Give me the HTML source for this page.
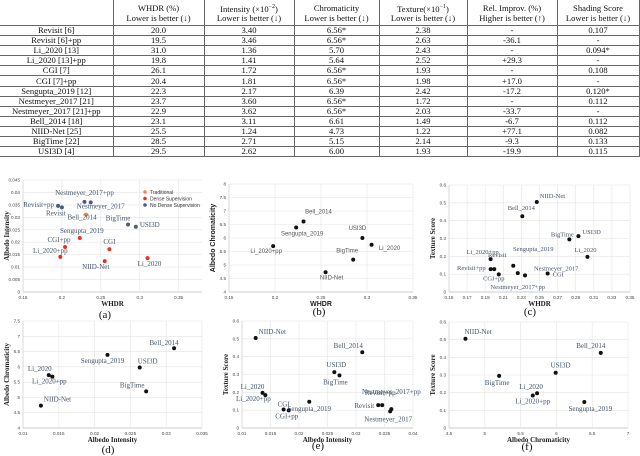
<!DOCTYPE html>
<html><head><meta charset="utf-8">
<style>
body{margin:0;width:640px;height:456px;background:#fff;position:relative;overflow:hidden;font-family:"Liberation Serif",serif}
table{position:absolute;left:0;top:0;border-collapse:collapse;font-size:8.6px;color:#111;table-layout:fixed}
td{border:0.6px solid #666;text-align:center;padding:0;height:9.1px;line-height:9px;white-space:nowrap}
tr.h td{height:25px;line-height:10px;border-top:none}
td.f{border-left:none}
svg{position:absolute;left:0;top:0}
</style></head><body>
<table>
<colgroup><col style="width:113px"><col style="width:91px"><col style="width:90px"><col style="width:85px"><col style="width:88px"><col style="width:90px"><col style="width:82px"></colgroup>
<tr class="h"><td class="f"></td><td>WHDR (%)<br>Lower is better (↓)</td><td>Intensity (×10<sup style="font-size:6px">−2</sup>)<br>Lower is better (↓)</td><td>Chromaticity<br>Lower is better (↓)</td><td>Texture(×10<sup style="font-size:6px">−1</sup>)<br>Lower is better (↓)</td><td>Rel. Improv. (%)<br>Higher is better (↑)</td><td>Shading Score<br>Lower is better (↓)</td></tr>
<tr><td class="f">Revisit [6]</td><td>20.0</td><td>3.40</td><td>6.56*</td><td>2.38</td><td>-</td><td>0.107</td></tr>
<tr><td class="f">Revisit [6]+pp</td><td>19.5</td><td>3.46</td><td>6.56*</td><td>2.63</td><td>-36.1</td><td>-</td></tr>
<tr><td class="f">Li_2020 [13]</td><td>31.0</td><td>1.36</td><td>5.70</td><td>2.43</td><td>-</td><td>0.094*</td></tr>
<tr><td class="f">Li_2020 [13]+pp</td><td>19.8</td><td>1.41</td><td>5.64</td><td>2.52</td><td>+29.3</td><td>-</td></tr>
<tr><td class="f">CGI [7]</td><td>26.1</td><td>1.72</td><td>6.56*</td><td>1.93</td><td>-</td><td>0.108</td></tr>
<tr><td class="f">CGI [7]+pp</td><td>20.4</td><td>1.81</td><td>6.56*</td><td>1.98</td><td>+17.0</td><td>-</td></tr>
<tr><td class="f">Sengupta_2019 [12]</td><td>22.3</td><td>2.17</td><td>6.39</td><td>2.42</td><td>-17.2</td><td>0.120*</td></tr>
<tr><td class="f">Nestmeyer_2017 [21]</td><td>23.7</td><td>3.60</td><td>6.56*</td><td>1.72</td><td>-</td><td>0.112</td></tr>
<tr><td class="f">Nestmeyer_2017 [21]+pp</td><td>22.9</td><td>3.62</td><td>6.56*</td><td>2.03</td><td>-33.7</td><td>-</td></tr>
<tr><td class="f">Bell_2014 [18]</td><td>23.1</td><td>3.11</td><td>6.61</td><td>1.49</td><td>-6.7</td><td>0.112</td></tr>
<tr><td class="f">NIID-Net [25]</td><td>25.5</td><td>1.24</td><td>4.73</td><td>1.22</td><td>+77.1</td><td>0.082</td></tr>
<tr><td class="f">BigTime [22]</td><td>28.5</td><td>2.71</td><td>5.15</td><td>2.14</td><td>-9.3</td><td>0.133</td></tr>
<tr><td class="f">USI3D [4]</td><td>29.5</td><td>2.62</td><td>6.00</td><td>1.93</td><td>-19.9</td><td>0.115</td></tr>
</table>
<svg id="s" width="640" height="456"></svg>
<script>
// Chart (a): WHDR vs Albedo Intensity
const aNames=["Revisit+pp","Revisit","Nestmeyer_2017+pp","Nestmeyer_2017","Bell_2014","BigTime","USI3D","Sengupta_2019","CGI+pp","CGI","Li_2020+pp","NIID-Net","Li_2020"];
const aX=[0.195,0.200,0.229,0.237,0.231,0.285,0.295,0.223,0.204,0.261,0.198,0.255,0.310];
const aY=[0.0346,0.0340,0.0362,0.0360,0.0311,0.0271,0.0262,0.0217,0.0181,0.0172,0.0141,0.0124,0.0136];
const aGroup=["none","none","none","none","trad","none","none","dense","dense","dense","dense","dense","dense"];
const aXTicks=[0.15,0.2,0.25,0.3,0.35];
const aYTicks=[0,0.005,0.01,0.015,0.02,0.025,0.03,0.035,0.04,0.045];
// Chart (b): WHDR vs Albedo Chromaticity
const bNames=["Bell_2014","Sengupta_2019","Li_2020+pp","USI3D","Li_2020","BigTime","NIID-Net"];
const bX=[0.231,0.223,0.198,0.295,0.305,0.285,0.255];
const bY=[6.61,6.39,5.70,6.00,5.75,5.20,4.73];
const bXTicks=[0.15,0.2,0.25,0.3,0.35];
const bYTicks=[4,4.5,5,5.5,6,6.5,7,7.5,8];
// Chart (c): WHDR vs Texture Score
const cNames=["NIID-Net","Bell_2014","BigTime","USI3D","Li_2020","Li_2020+pp","Revisit+pp","Revisit","Sengupta_2019","CGI+pp","Nestmeyer_2017+pp","Nestmeyer_2017","CGI"];
const cX=[0.247,0.231,0.283,0.293,0.303,0.196,0.196,0.200,0.221,0.205,0.226,0.234,0.259];
const cY=[0.505,0.425,0.295,0.313,0.197,0.184,0.128,0.128,0.147,0.099,0.106,0.093,0.104];
const cXTicks=[0.15,0.17,0.19,0.21,0.23,0.25,0.27,0.29,0.31,0.33,0.35];
const cYTicks=[0,0.1,0.2,0.3,0.4,0.5,0.6];
// Chart (d): Albedo Intensity vs Albedo Chromaticity
const dNames=["Bell_2014","Sengupta_2019","USI3D","BigTime","Li_2020","Li_2020+pp","NIID-Net"];
const dX=[0.0311,0.0218,0.0263,0.0272,0.0136,0.0141,0.0125];
const dY=[6.61,6.39,5.98,5.20,5.73,5.68,4.73];
const dXTicks=[0.01,0.015,0.02,0.025,0.03,0.035];
const dYTicks=[4,4.5,5,5.5,6,6.5,7,7.5];
// Chart (e): Albedo Intensity vs Texture Score
const eNames=["NIID-Net","Bell_2014","USI3D","BigTime","Li_2020","Li_2020+pp","CGI","CGI+pp","Sengupta_2019","Revisit","Revisit+pp","Nestmeyer_2017+pp","Nestmeyer_2017"];
const eX=[0.0124,0.0311,0.0262,0.0271,0.0136,0.0141,0.0173,0.0182,0.0218,0.0339,0.0346,0.0362,0.0360];
const eY=[0.505,0.425,0.313,0.295,0.197,0.184,0.104,0.099,0.147,0.128,0.128,0.106,0.093];
const eXTicks=[0.01,0.015,0.02,0.025,0.03,0.035,0.04];
const eYTicks=[0,0.1,0.2,0.3,0.4,0.5,0.6];
// Chart (f): Albedo Chromaticity vs Texture Score
const fNames=["NIID-Net","BigTime","USI3D","Bell_2014","Li_2020","Li_2020+pp","Sengupta_2019"];
const fX=[4.73,5.20,5.99,6.62,5.73,5.67,6.39];
const fY=[0.505,0.295,0.313,0.425,0.197,0.184,0.147];
const fXTicks=[4.5,5,5.5,6,6.5,7];
const fYTicks=[0,0.1,0.2,0.3,0.4,0.5,0.6];

const NS="http://www.w3.org/2000/svg";
const svg=document.getElementById('s');
function mk(tag,attrs,parent,text){const e=document.createElementNS(NS,tag);for(const k in attrs)e.setAttribute(k,attrs[k]);if(text!==undefined)e.textContent=text;(parent||svg).appendChild(e);return e;}
const labA=[[-4,1,"end"],[-6,8,"middle"],[0,-7,"middle"],[10,6,"middle"],[-4,5,"middle"],[-10,-4,"middle"],[4,0,"start"],[2,-5,"middle"],[-6,-5,"middle"],[0,-5,"middle"],[-10,-4,"middle"],[-9,8,"middle"],[2,8,"middle"]];
const labB=[[15,-8,"middle"],[6,8,"middle"],[-7,7,"middle"],[-5,-8,"middle"],[18,5,"middle"],[-6,-7,"middle"],[6,7,"middle"]];
const labC=[[3,-4,"start"],[-1,-6,"middle"],[-7,-3,"middle"],[4,-2,"start"],[-2,-5,"middle"],[-8,-5,"middle"],[-5,1,"end"],[3,-12,"middle"],[20,-15,"middle"],[-5,6,"middle"],[0,16,"middle"],[9,-5,"start"],[5,3,"start"]];
const labD=[[-10,-3,"middle"],[-5,8,"middle"],[8,-4,"middle"],[-14,-4,"middle"],[-9,-4,"middle"],[-3,7,"middle"],[3,-4,"start"]];
const labE=[[3,-4,"start"],[-14,-4,"middle"],[2,-5,"middle"],[-4,9,"middle"],[-10,-4,"middle"],[-12,6,"middle"],[0,-3,"middle"],[-2,8,"middle"],[0,9,"middle"],[-4,3,"end"],[-2,-10,"middle"],[0,-15,"middle"],[-2,10,"middle"]];
const labF=[[-1,-5,"start"],[-2,9,"middle"],[-5,-5,"start"],[-10,-5,"middle"],[-6,-4,"middle"],[0,8,"middle"],[6,9,"middle"]];

function chart(id,c,names,xs,ys,xt,yt,lab,colors){
  const g=mk('g',{},svg);
  
  
  const sx=v=>c.px0+(v-c.x0)/(c.x1-c.x0)*(c.px1-c.px0);
  const sy=v=>c.py0-(v-c.y0)/(c.y1-c.y0)*(c.py0-c.py1);
  yt.forEach(t=>{const y=sy(t);
    const l=mk('line',{x1:c.px0,x2:c.px1,y1:y,y2:y,stroke:t===c.y0?'#999':'#e4e4e4','stroke-width':0.6},g);
    
    const tx=mk('text',{x:c.px0-3,y:y+1.5,'font-size':4.6,'text-anchor':'end',fill:'#444','font-family':'Liberation Sans, sans-serif'},g,String(t));
    });
  xt.forEach(t=>{const x=sx(t);
    const l=mk('line',{x1:x,x2:x,y1:c.py0,y2:c.py1,stroke:'#e4e4e4','stroke-width':0.6},g);
    
    const tx=mk('text',{x:x,y:c.py0+7,'font-size':4.6,'text-anchor':'middle',fill:'#444','font-family':'Liberation Sans, sans-serif'},g,String(t));
    });
  const ax=mk('line',{x1:c.px0,x2:c.px0,y1:c.py0,y2:c.py1,stroke:'#ccc','stroke-width':0.6},g);
  
  names.forEach((n,i)=>{const x=sx(xs[i]),y=sy(ys[i]);
    const p=mk('circle',{cx:x,cy:y,r:2,fill:colors?colors[i]:'#111'},g);
    
    
    const L=lab[i];
    const t=mk('text',{x:x+L[0],y:y+L[1],'text-anchor':L[2],'font-size':c.fs,fill:c.lc,'font-family':c.ff},g,n);
    });
  const xl=mk('text',{x:(c.px0+c.px1)/2,y:c.py0+14,'text-anchor':'middle','font-size':7,'font-weight':'bold',fill:'#222','font-family':c.tf},g,c.xl);
  
  const cy=(c.py0+c.py1)/2, cx=c.px0-14;
  const yl=mk('text',{x:cx,y:cy,transform:`rotate(-90 ${cx} ${cy})`,'text-anchor':'middle','font-size':7,'font-weight':'bold',fill:'#222','font-family':c.tf},g,c.yl);
  
  const cap=mk('text',{x:c.cap[0],y:c.cap[1],'text-anchor':'middle','font-size':11,fill:'#111','font-family':'Liberation Serif, serif'},g,'('+id+')');
  
  return g;
}
const SERIF='Liberation Serif, serif', SANS='Liberation Sans, sans-serif';
const grpColor={trad:'#f4854f',dense:'#e8321f',none:'#4a5d7e'};
const ga=chart('a',{x0:0.15,x1:0.38,px0:23,px1:202,y0:0,y1:0.045,py0:292,py1:180,fs:7,lc:'#44546a',ff:SERIF,tf:SERIF,xl:'WHDR',yl:'Albedo Intensity',cap:[105,318]},aNames,aX,aY,aXTicks,aYTicks,labA,aGroup.map(g=>grpColor[g]));
[['Traditional','trad'],['Dense Supervision','dense'],['No Dense Supervision','none']].forEach((e,i)=>{
  const c=mk('circle',{cx:145,cy:192+i*6.5,r:1.8,fill:grpColor[e[1]]},ga);
  
  const t=mk('text',{x:150,y:194+i*6.5,'font-size':5,fill:'#333','font-family':SANS},ga,e[0]);
  });
chart('b',{x0:0.15,x1:0.35,px0:229,px1:413,y0:4,y1:8,py0:292,py1:184,fs:6,lc:'#555',ff:SANS,tf:SANS,xl:'WHDR',yl:'Albedo Chromaticity',cap:[319,315]},bNames,bX,bY,bXTicks,bYTicks,labB);
chart('c',{x0:0.15,x1:0.35,px0:449,px1:630,y0:0,y1:0.6,py0:292,py1:185,fs:6.5,lc:'#44546a',ff:SERIF,tf:SERIF,xl:'WHDR',yl:'Texture Score',cap:[530,315]},cNames,cX,cY,cXTicks,cYTicks,labC);
chart('d',{x0:0.01,x1:0.035,px0:23,px1:202,y0:4,y1:7.5,py0:428,py1:321,fs:7,lc:'#44546a',ff:SERIF,tf:SERIF,xl:'Albedo Intensity',yl:'Albedo Chromaticity',cap:[108,453]},dNames,dX,dY,dXTicks,dYTicks,labD);
chart('e',{x0:0.01,x1:0.04,px0:242,px1:413,y0:0,y1:0.6,py0:428,py1:321,fs:7,lc:'#44546a',ff:SERIF,tf:SERIF,xl:'Albedo Intensity',yl:'Texture Score',cap:[318,449]},eNames,eX,eY,eXTicks,eYTicks,labE);
chart('f',{x0:4.5,x1:7,px0:449,px1:628,y0:0,y1:0.6,py0:428,py1:322,fs:7,lc:'#44546a',ff:SERIF,tf:SERIF,xl:'Albedo Chromaticity',yl:'Texture Score',cap:[527,450]},fNames,fX,fY,fXTicks,fYTicks,labF);
</script>
</body></html>
